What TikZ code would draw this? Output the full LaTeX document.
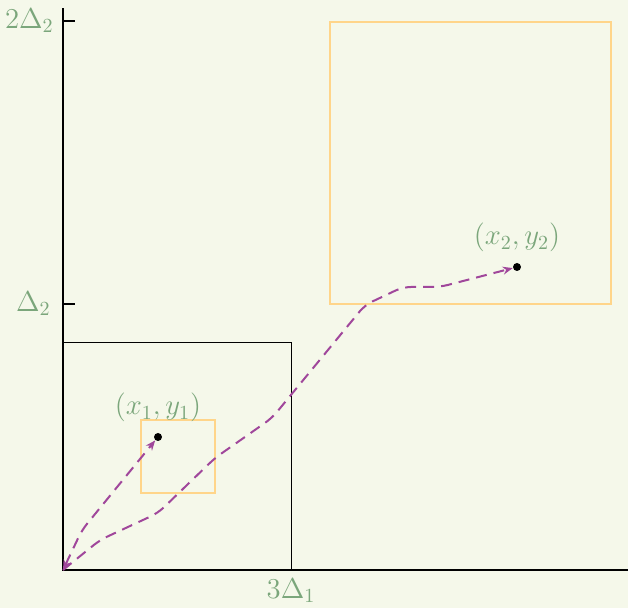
\documentclass[tikz,border=0pt]{standalone}
\usepackage{amsmath,amssymb,amsfonts}
\usepackage{tikz}
\usetikzlibrary{positioning, arrows.meta}

\definecolor{bgcol}{HTML}{F5F8EA}
\definecolor{labcol}{HTML}{7BA67B}
\definecolor{boxcol}{HTML}{FFD58A}
\definecolor{pathcol}{HTML}{A0479B}

\begin{document}
\begin{tikzpicture}[
            x=0.5pt, y=-0.5pt,
            axis/.style={
                draw=black,
                line width=1.1pt
            },
            lab/.style={
                text=labcol,
                font=\Large,
                inner sep=1pt
            },
            region/.style={
                draw=boxcol,
                line width=1pt
            },
            pt/.style={
                circle,
                fill=black,
                minimum size=4pt,
                inner sep=0pt
            },
            route/.style={
                draw=pathcol,
                line width=1pt,
                dash pattern=on 5.5pt off 3.5pt,
                rounded corners=4pt,
                >={Stealth[length=5pt,width=4pt]}
            }
        ]
            \fill[bgcol] (0,0) rectangle (628,608);
            \useasboundingbox (0,0) rectangle (628,608);

            \coordinate (O) at (63,570);
            \coordinate (xend) at (628,570);
            \coordinate (yend) at (63,8);

            % axes and ticks
            \draw [axis] (xend) -- (O) -- (yend);
            \draw [axis] (63,21) -- (75,21);
            \draw [axis] (63,304) -- (75,304);

            \node [lab, anchor=east] (t2) at (56,21) {$2\Delta_2$};
            \node [lab, anchor=east] (t1) at (53,304) {$\Delta_2$};
            \node [lab] (t3) at (291,591) {$3\Delta_1$};

            % boxes
            \draw [line width=0.5pt] (O) rectangle (291,343);
            \draw [region] (141,420) rectangle (215,493);
            \draw [region] (330,22) rectangle (611,304);

            % points
            \node [pt] (p1) at (158,437) {};
            \node [pt] (p2) at (517,267) {};
            \node [lab, above=4pt of p1] (l1) {$(x_1,y_1)$};
            \node [lab, above=4pt of p2] (l2) {$(x_2,y_2)$};

            \draw [route, <->] (O) -- (82,530) -- (p1);
            \draw [route, ->] (O) -- (100,540) -- (158,513) -- (215,458)
                                -- (272,418) -- (365,305) -- (403,287)
                                -- (440,287) -- (p2);

        \end{tikzpicture}
\end{document}
